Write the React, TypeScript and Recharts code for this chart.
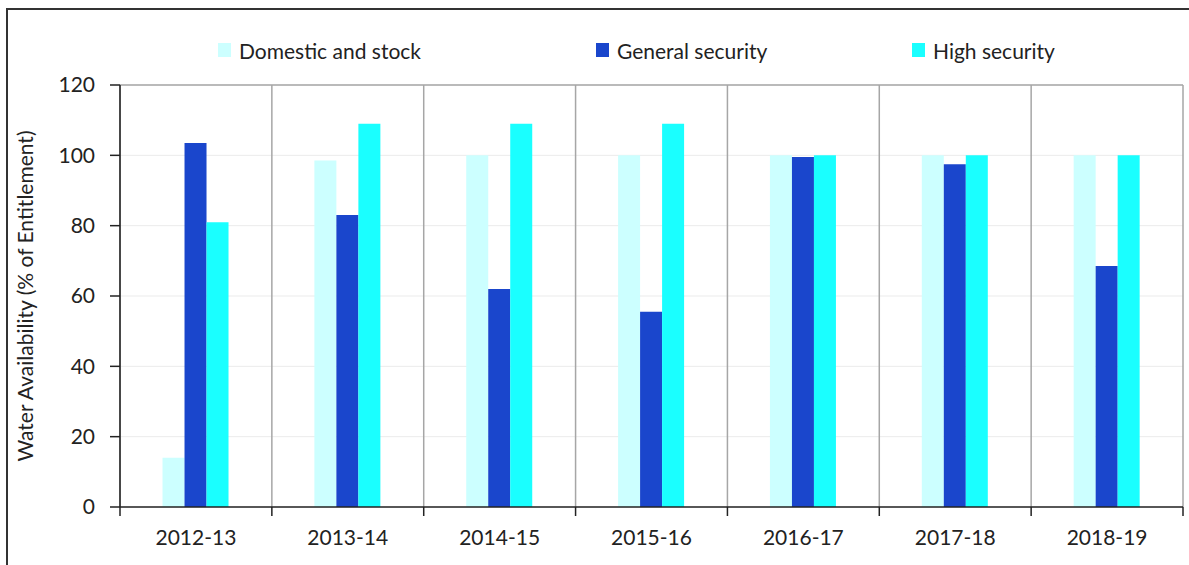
import React from "react";
import {
  BarChart,
  Bar,
  XAxis,
  YAxis,
  CartesianGrid,
  ReferenceLine,
} from "recharts";

const years = ["2012-13", "2013-14", "2014-15", "2015-16", "2016-17", "2017-18", "2018-19"];
const domesticStock = [14, 98.5, 100, 100, 100, 100, 100];
const generalSecurity = [103.5, 83, 62, 55.5, 99.5, 97.5, 68.5];
const highSecurity = [81, 109, 109, 109, 100, 100, 100];
const yTicks = [0, 20, 40, 60, 80, 100, 120];

const seriesNames = ["Domestic and stock", "General security", "High security"];
const seriesKeys = ["domestic", "general", "high"];
const seriesColors = ["#ccffff", "#1a46cc", "#1affff"];

const data = years.map((year, i) => ({
  year,
  domestic: domesticStock[i],
  general: generalSecurity[i],
  high: highSecurity[i],
}));

const FONT = "Lato, 'Open Sans', sans-serif";
const TEXT = "#222";
const AXIS = "#222";
const TICK_SIZE = 6;
const TICK_MARGIN = 17;
const EDGE_TICK = 9;

// left edge of each legend entry
const legendLeft = [218, 596, 912];

// vertical separators between the year groups
const categoryEdges = ({ offset }: any) =>
  Array.from({ length: years.length + 1 }, (_, i) => offset.left + (i * offset.width) / years.length);

// year label, plus the tick marks at the group boundaries (Excel style)
const YearTick = (props: any) => {
  const { x, y, payload, index, visibleTicksCount } = props;
  const half = payload.offset || 0;
  const axisY = y - TICK_SIZE - TICK_MARGIN;
  const edges = [x - half];
  if (index === visibleTicksCount - 1) edges.push(x + half);
  return (
    <g>
      {edges.map((ex) => (
        <line key={ex} x1={ex} x2={ex} y1={axisY} y2={axisY + EDGE_TICK} stroke={AXIS} strokeWidth={1.5} />
      ))}
      <text x={x} y={y} dy="0.71em" textAnchor="middle" fill={TEXT} fontSize={21} fontFamily={FONT}>
        {payload.value}
      </text>
    </g>
  );
};

const ChartLegend: React.FC = () => (
  <div style={{ position: "absolute", top: 38, left: 0, height: 24 }}>
    {seriesNames.map((name, i) => (
      <div
        key={name}
        style={{
          position: "absolute",
          left: legendLeft[i],
          top: 0,
          height: 24,
          display: "flex",
          alignItems: "center",
          whiteSpace: "nowrap",
          fontFamily: FONT,
          fontSize: 21,
          color: TEXT,
        }}
      >
        <span
          style={{
            display: "inline-block",
            width: 13,
            height: 14,
            background: seriesColors[i],
            marginRight: 8,
          }}
        />
        {name}
      </div>
    ))}
  </div>
);

const App: React.FC = () => {
  return (
    <div
      style={{
        position: "absolute",
        left: 0,
        top: 0,
        width: 1189,
        height: 565,
        overflow: "hidden",
        background: "#fff",
      }}
    >
      <div
        style={{
          position: "absolute",
          left: 6,
          top: 8,
          width: 1300,
          height: 700,
          borderLeft: "2px solid #333",
          borderTop: "2px solid #333",
        }}
      />
      <BarChart
        width={1189}
        height={565}
        data={data}
        margin={{ top: 85, right: 6, bottom: 18, left: 0 }}
        barCategoryGap="28%"
        barGap={0}
        style={{ position: "absolute", left: 0, top: 0, fontFamily: FONT }}
      >
        <CartesianGrid vertical={false} stroke="#ebebeb" />
        <CartesianGrid
          horizontal={false}
          verticalCoordinatesGenerator={categoryEdges}
          stroke="#a6a6a6"
          strokeWidth={1.5}
        />
        <ReferenceLine y={120} stroke="#a6a6a6" strokeWidth={1.5} />
        <XAxis
          dataKey="year"
          height={40}
          axisLine={{ stroke: AXIS, strokeWidth: 1.5 }}
          tickLine={false}
          tickSize={TICK_SIZE}
          tickMargin={TICK_MARGIN}
          interval={0}
          tick={<YearTick />}
        />
        <YAxis
          width={120}
          domain={[0, 120]}
          ticks={yTicks}
          tickSize={10}
          tickMargin={15}
          axisLine={{ stroke: AXIS, strokeWidth: 1.5 }}
          tickLine={{ stroke: AXIS, strokeWidth: 1.5 }}
          tick={{ fill: TEXT, fontSize: 21, fontFamily: FONT }}
          label={{
            value: "Water Availability (% of Entitlement)",
            angle: -90,
            position: "insideLeft",
            offset: 26,
            style: { textAnchor: "middle", fill: TEXT, fontSize: 21, fontFamily: FONT },
          }}
        />
        {seriesKeys.map((key, i) => (
          <Bar
            key={key}
            dataKey={key}
            name={seriesNames[i]}
            fill={seriesColors[i]}
            isAnimationActive={false}
          />
        ))}
      </BarChart>
      <ChartLegend />
    </div>
  );
};

export default App;
